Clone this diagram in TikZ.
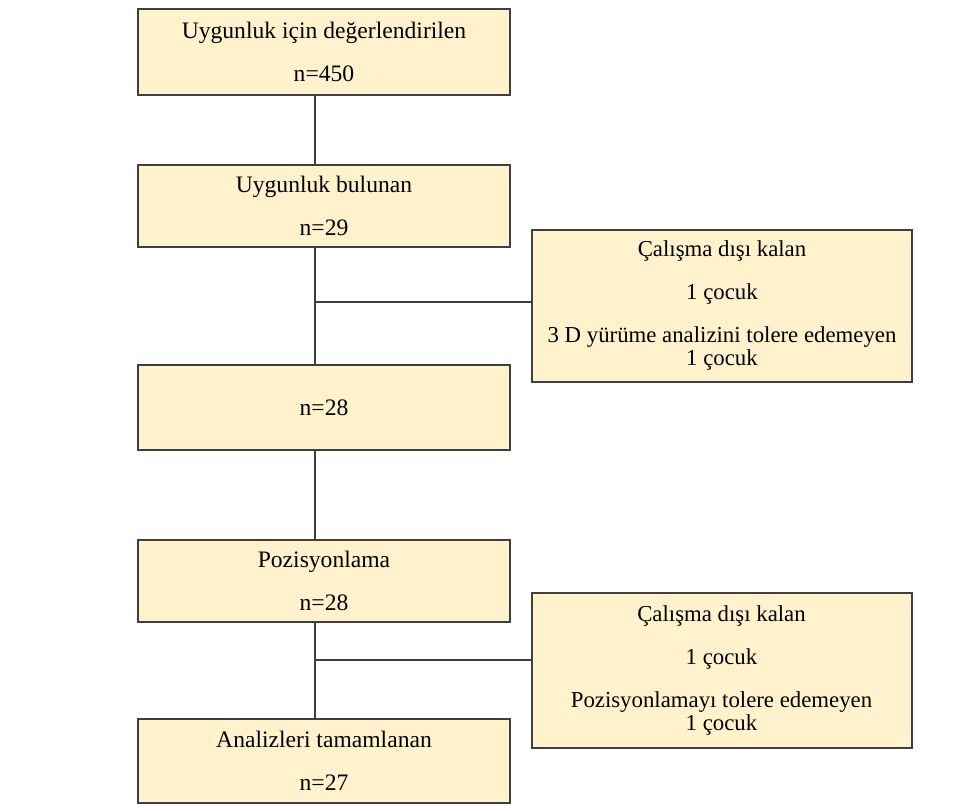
\documentclass[tikz,border=0pt]{standalone}
\usepackage{fontspec}
\setmainfont{Liberation Serif}
\usetikzlibrary{positioning}
\definecolor{boxfill}{HTML}{FFF2CC}
\definecolor{boxline}{HTML}{3F3F3F}
\tikzset{
	flowbox/.style={draw=boxline, fill=boxfill, line width=1pt, align=center, inner sep=0pt, font=\fontsize{11.8}{11.5}\selectfont},
	mainbox/.style={flowbox, minimum width=186pt},
	sidebox/.style={flowbox, minimum width=190pt, font=\fontsize{11.4}{11.5}\selectfont},
	link/.style={draw=boxline, line width=0.9pt}
}
\begin{document}
\begin{tikzpicture}[x=0.5pt, y=-0.5pt]
	\useasboundingbox (0,0) rectangle (979,805);
	% main column
	\node[mainbox, minimum height=43pt] (elig) at (324,52) {Uygunluk için değerlendirilen\\[10pt]n=450};
	\node[mainbox, minimum height=41pt] (found) at (324,206) {Uygunluk bulunan\\[10pt]n=29};
	\node[mainbox, minimum height=42.5pt] (left) at (324,407.5) {n=28};
	\node[mainbox, minimum height=41pt] (pos) at (324,581) {Pozisyonlama\\[10pt]n=28};
	\node[mainbox, minimum height=42pt] (done) at (324,761) {Analizleri tamamlanan\\[10pt]n=27};
	% excluded
	\node[sidebox, minimum height=76pt] (excl1) at (722,306) {Çalışma dışı kalan\\[10pt]1 çocuk\\[10pt]3 D yürüme analizini tolere edemeyen\\1 çocuk};
	\node[sidebox, minimum height=77.5pt] (excl2) at (721.5,670.5) {Çalışma dışı kalan\\[10pt]1 çocuk\\[10pt]Pozisyonlamayı tolere edemeyen\\1 çocuk};
	\coordinate (trunk) at (315,0);
	\coordinate (j1) at (315,302);
	\coordinate (j2) at (315,660);
	\draw[link] (elig.south -| trunk) -- (found.north -| trunk);
	\draw[link] (found.south -| trunk) -- (left.north -| trunk);
	\draw[link] (left.south -| trunk) -- (pos.north -| trunk);
	\draw[link] (pos.south -| trunk) -- (done.north -| trunk);
	\draw[link] (j1) -- (j1 -| excl1.west);
	\draw[link] (j2) -- (j2 -| excl2.west);
\end{tikzpicture}
\end{document}
